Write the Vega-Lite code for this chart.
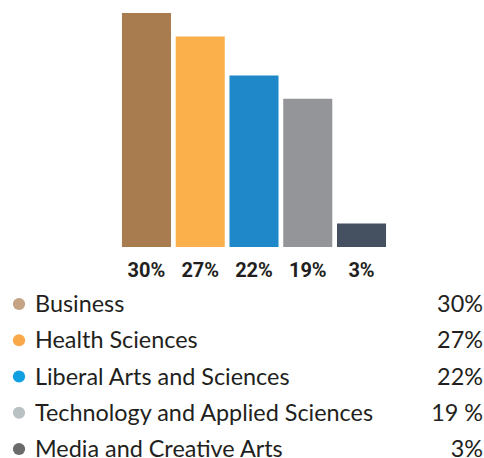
{
  "$schema": "https://vega.github.io/schema/vega-lite/v6.json",
  "width": 484,
  "height": 458,
  "padding": 0,
  "autosize": {"type": "none"},
  "background": "white",
  "config": {"view": {"stroke": null}},
  "data": {
    "values": [
      {"field": "Business", "pct": 30, "barLabel": "30%", "legendPct": "30%"},
      {"field": "Health Sciences", "pct": 27, "barLabel": "27%", "legendPct": "27%"},
      {"field": "Liberal Arts and Sciences", "pct": 22, "barLabel": "22%", "legendPct": "22%"},
      {"field": "Technology and Applied Sciences", "pct": 19, "barLabel": "19%", "legendPct": "19 %"},
      {"field": "Media and Creative Arts", "pct": 3, "barLabel": "3%", "legendPct": "3%"}
    ]
  },
  "layer": [
    {
      "encoding": {
        "x": {
          "field": "field", "type": "nominal", "sort": null,
          "scale": {"range": [119.6, 388.4], "paddingInner": 0.088, "paddingOuter": 0.044},
          "axis": null
        }
      },
      "layer": [
        {
          "mark": {"type": "bar"},
          "encoding": {
            "y": {"field": "pct", "type": "quantitative", "scale": {"domain": [-27.05, 31.67], "nice": false, "zero": false}, "axis": null},
            "color": {
              "field": "field", "type": "nominal", "sort": null, "legend": null,
              "scale": {
                "domain": ["Business", "Health Sciences", "Liberal Arts and Sciences", "Technology and Applied Sciences", "Media and Creative Arts"],
                "range": ["#a97c50", "#fbb04c", "#1e88c9", "#939598", "#455161"]
              }
            }
          }
        },
        {
          "mark": {"type": "text", "font": "Roboto", "fontWeight": "bold", "fontSize": 20, "baseline": "alphabetic", "dy": 30, "color": "#231f20"},
          "encoding": {
            "y": {"datum": 0, "type": "quantitative"},
            "text": {"field": "barLabel"}
          }
        }
      ]
    },
    {
      "encoding": {
        "y": {
          "field": "field", "type": "nominal", "sort": null,
          "scale": {"type": "point", "range": [304, 449], "padding": 0},
          "axis": null
        }
      },
      "layer": [
        {
          "mark": {"type": "circle", "size": 150, "opacity": 1},
          "encoding": {
            "x": {"datum": 19, "type": "quantitative", "scale": {"domain": [0, 484], "nice": false, "zero": false}, "axis": null},
            "color": {
              "field": "field", "type": "nominal", "sort": null, "legend": null,
              "scale": {
                "domain": ["Business", "Health Sciences", "Liberal Arts and Sciences", "Technology and Applied Sciences", "Media and Creative Arts"],
                "range": ["#c4a484", "#f9a84a", "#0fa0e2", "#b9c1c3", "#6b6b6b"]
              }
            }
          }
        },
        {
          "mark": {"type": "text", "font": "Lato", "fontSize": 23.4, "align": "left", "baseline": "alphabetic", "dy": 8, "color": "#231f20"},
          "encoding": {
            "x": {"datum": 35, "type": "quantitative"},
            "text": {"field": "field"}
          }
        },
        {
          "mark": {"type": "text", "font": "Lato", "fontSize": 23.4, "align": "right", "baseline": "alphabetic", "dy": 8, "color": "#231f20"},
          "encoding": {
            "x": {"datum": 483, "type": "quantitative"},
            "text": {"field": "legendPct"}
          }
        }
      ]
    }
  ],
  "resolve": {"scale": {"x": "independent", "y": "independent", "color": "independent"}}
}
